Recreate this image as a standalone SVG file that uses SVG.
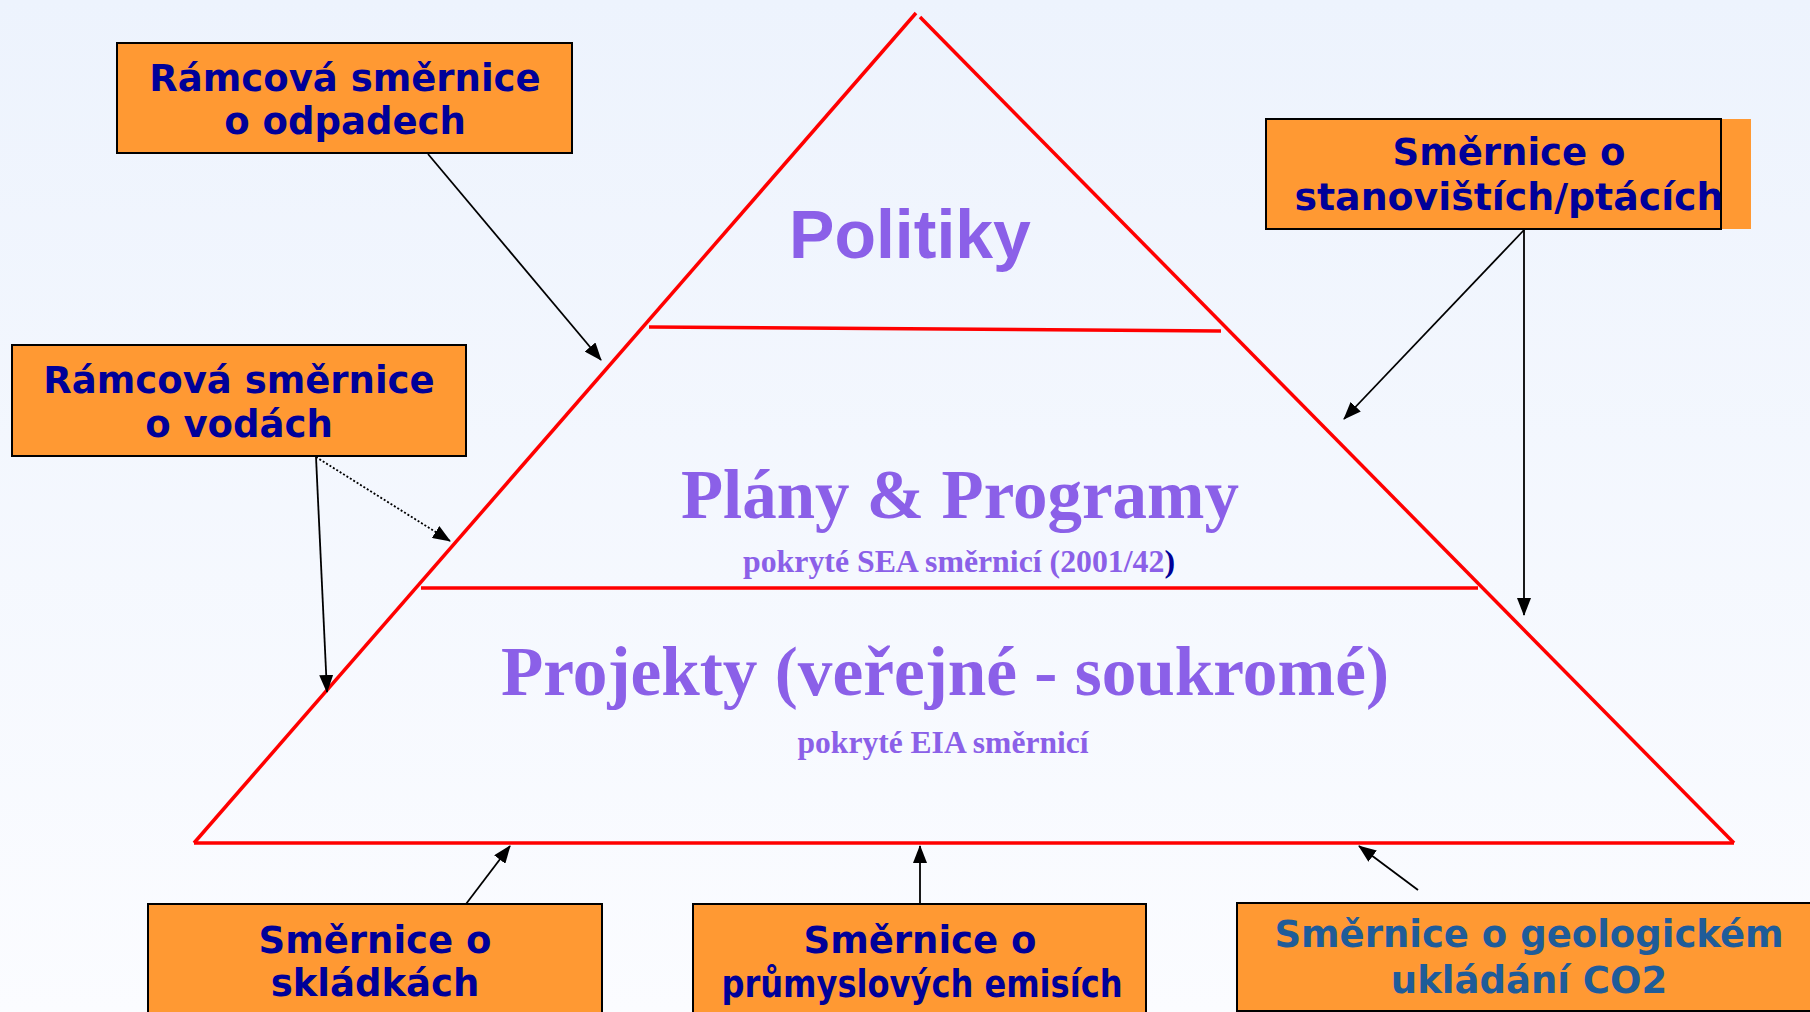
<svg xmlns="http://www.w3.org/2000/svg" width="1810" height="1012" viewBox="0 0 1810 1012">
<defs>
<linearGradient id="bg" x1="0" y1="0" x2="0" y2="1">
<stop offset="0" stop-color="#EDF3FD"/>
<stop offset="1" stop-color="#FBFCFF"/>
</linearGradient>
<marker id="ah" markerUnits="userSpaceOnUse" markerWidth="18" markerHeight="14" refX="17" refY="7" orient="auto">
<path d="M0,0 L18,7 L0,14 Z" fill="#000"/>
</marker>
<style>
.box{fill:#FF9933;stroke:#000;stroke-width:2}
.bt{font-family:"DejaVu Sans",Verdana,sans-serif;font-weight:bold;font-size:37px;fill:#000099;text-anchor:middle}
.red{stroke:#FF0000;stroke-width:3.5;fill:none}
.con{stroke:#000;stroke-width:1.8;fill:none;marker-end:url(#ah)}
.pur{fill:#8B60E8;text-anchor:middle;font-weight:bold}
.serif{font-family:"Liberation Serif","Times New Roman",serif}
</style>
</defs>
<rect width="1810" height="1012" fill="url(#bg)"/>
<g id="pyramid">
<line class="red" x1="916" y1="13" x2="194" y2="843"/>
<line class="red" x1="920" y1="17" x2="1734" y2="843"/>
<line class="red" x1="194" y1="843" x2="1734" y2="843"/>
<line class="red" x1="649" y1="327" x2="1221" y2="331"/>
<line class="red" x1="421" y1="588" x2="1478" y2="588"/>
<text class="pur" x="910" y="258" font-family="Liberation Sans, Arial, sans-serif" font-size="68">Politiky</text>
<text class="pur serif" x="960" y="518" font-size="69" textLength="558" lengthAdjust="spacingAndGlyphs">Plány &amp; Programy</text>
<text class="pur serif" x="959" y="572" font-size="31" textLength="432" lengthAdjust="spacingAndGlyphs">pokryté SEA směrnicí (2001/42<tspan fill="#000099">)</tspan></text>
<text class="pur serif" x="945" y="695" font-size="69" textLength="888" lengthAdjust="spacingAndGlyphs">Projekty (veřejné - soukromé)</text>
<text class="pur serif" x="943" y="753" font-size="31" textLength="291" lengthAdjust="spacingAndGlyphs">pokryté EIA směrnicí</text>
</g>
<g id="connectors">
<line class="con" x1="428" y1="154" x2="601" y2="360"/>
<line class="con" x1="316" y1="457" x2="450" y2="541" stroke-dasharray="2,2"/>
<line class="con" x1="316" y1="457" x2="327" y2="692"/>
<line class="con" x1="1524" y1="230" x2="1344" y2="419"/>
<line class="con" x1="1524" y1="230" x2="1524" y2="615"/>
<line class="con" x1="466" y1="904" x2="510" y2="846"/>
<line class="con" x1="920" y1="904" x2="920" y2="846"/>
<line class="con" x1="1418" y1="890" x2="1359" y2="846"/>
</g>
<g id="n-odpady">
<rect class="box" x="117" y="43" width="455" height="110"/>
<text class="bt" x="345" y="91">Rámcová směrnice</text>
<text class="bt" x="345" y="134">o odpadech</text>
</g>
<g id="n-vody">
<rect class="box" x="12" y="345" width="454" height="111"/>
<text class="bt" x="239" y="393">Rámcová směrnice</text>
<text class="bt" x="239" y="437">o vodách</text>
</g>
<g id="n-stanoviste">
<rect x="1266" y="119" width="485" height="110" fill="#FF9933"/>
<rect class="box" x="1266" y="119" width="455" height="110"/>
<text class="bt" x="1509" y="165">Směrnice o</text>
<text class="bt" x="1509" y="210" textLength="429" lengthAdjust="spacingAndGlyphs">stanovištích/ptácích</text>
</g>
<g id="n-skladky">
<rect class="box" x="148" y="904" width="454" height="130"/>
<text class="bt" x="375" y="953">Směrnice o</text>
<text class="bt" x="375" y="996">skládkách</text>
</g>
<g id="n-emise">
<rect class="box" x="693" y="904" width="453" height="130"/>
<text class="bt" x="920" y="953">Směrnice o</text>
<text class="bt" x="922" y="997" font-size="35" textLength="401" lengthAdjust="spacingAndGlyphs">průmyslových emisích</text>
</g>
<g id="n-co2">
<rect class="box" x="1237" y="903" width="600" height="108"/>
<text class="bt" x="1529" y="947" style="fill:#1F5C99">Směrnice o geologickém</text>
<text class="bt" x="1529" y="993" style="fill:#1F5C99">ukládání CO2</text>
</g>
</svg>
